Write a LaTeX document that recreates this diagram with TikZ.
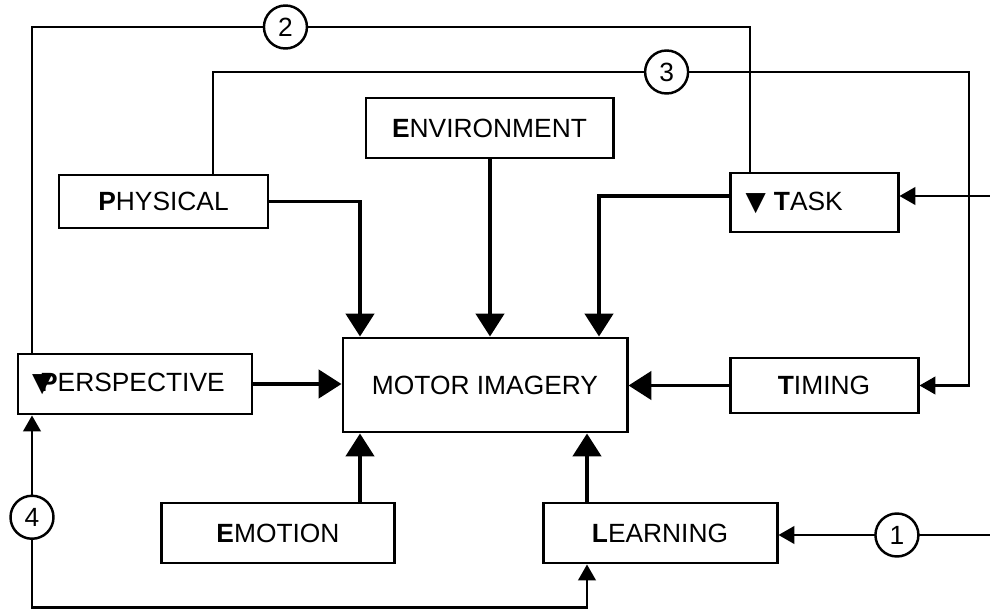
\documentclass[tikz,border=0pt]{standalone}
\usepackage{fontspec}
\setmainfont{Liberation Sans}
\newfontfamily\symfont{DejaVu Sans}
\usetikzlibrary{arrows.meta}
\begin{document}
\begin{tikzpicture}[every node/.style={font=\fontsize{15}{17}\selectfont}]
  \tikzstyle{box}=[draw,line width=1.7pt,inner sep=2pt,align=center]
  \tikzstyle{arr}=[line width=2.2pt,-{Triangle[length=13pt,width=16pt]}]
  \tikzstyle{fb}=[line width=1.15pt]
  \tikzstyle{tip}=[-{Triangle[length=9pt,width=10pt]}]
  \tikzstyle{num}=[draw,circle,line width=1.4pt,fill=white,inner sep=0pt,minimum size=0.86cm]
  \useasboundingbox (0,0) rectangle (19.8,12.2);
  \node[box,minimum width=4.18cm,minimum height=1.06cm] (phys) at (3.27,8.17) {\textbf{P}HYSICAL};
  \node[box,minimum width=4.94cm,minimum height=1.2cm] (env) at (9.79,9.64) {\textbf{E}NVIRONMENT};
  \node[box,minimum width=3.36cm,minimum height=1.18cm] (task) at (16.28,8.15) {{\symfont ▼}\hspace{0.3em}\textbf{T}ASK\hspace{1.5em}};
  \node[box,minimum width=5.68cm,minimum height=1.88cm] (motor) at (9.7,4.5) {MOTOR IMAGERY};
  \node[box,minimum width=4.68cm,minimum height=1.2cm] (persp) at (2.7,4.52) {{\symfont ▼}\hspace{-7pt}\textbf{P}ERSPECTIVE\hspace{0.5em}};
  \node[box,minimum width=3.76cm,minimum height=1.1cm] (timing) at (16.48,4.49) {\textbf{T}IMING};
  \node[box,minimum width=4.66cm,minimum height=1.2cm] (emo) at (5.56,1.54) {\textbf{E}MOTION};
  \node[box,minimum width=4.68cm,minimum height=1.2cm] (learn) at (13.2,1.54) {\textbf{L}EARNING};
  \coordinate (c1) at (7.2,0);
  \coordinate (c2) at (9.8,0);
  \coordinate (c3) at (11.98,0);
  \coordinate (c5) at (11.74,0);
  \coordinate (r1) at (19.8,1.5);
  \coordinate (r2) at (19.8,8.28);
  \coordinate (t2) at (15.0,11.66);
  \coordinate (t2l) at (0.64,11.66);
  \coordinate (t3) at (4.26,10.76);
  \coordinate (t3r) at (19.38,10.76);
  \coordinate (b4l) at (0.64,0.05);
  \coordinate (b4r) at (11.74,0.05);
  \draw[arr] (phys.east) -| (motor.north -| c1);
  \draw[arr] (env.south -| c2) -- (motor.north -| c2);
  \draw[arr] (r2 -| task.west) -| (motor.north -| c3);
  \draw[arr] (persp.east) -- (persp.east -| motor.west);
  \draw[arr] (timing.west) -- (timing.west -| motor.east);
  \draw[arr] (emo.north -| c1) -- (motor.south -| c1);
  \draw[arr] (learn.north -| c5) -- (motor.south -| c5);
  \draw[fb,tip] (r1) -- node[num,pos=0.44] {1} (r1 -| learn.east);
  \draw[fb,tip] (r2) -- (r2 -| task.east);
  \draw[fb] (task.north -| t2) -- (t2) -- node[num,pos=0.647] {2} (t2l) -- (persp.north -| t2l);
  \draw[fb,tip] (phys.north -| t3) -- (t3) -- node[num,pos=0.6] {3} (t3r) -- (t3r |- timing.east) -- (timing.east);
  \draw[fb,{Triangle[length=9pt,width=10pt]}-{Triangle[length=9pt,width=10pt]}] (persp.south -| b4l) -- node[num,pos=0.53] {4} (b4l) -- (b4r) -- (learn.south -| b4r);
\end{tikzpicture}
\end{document}
